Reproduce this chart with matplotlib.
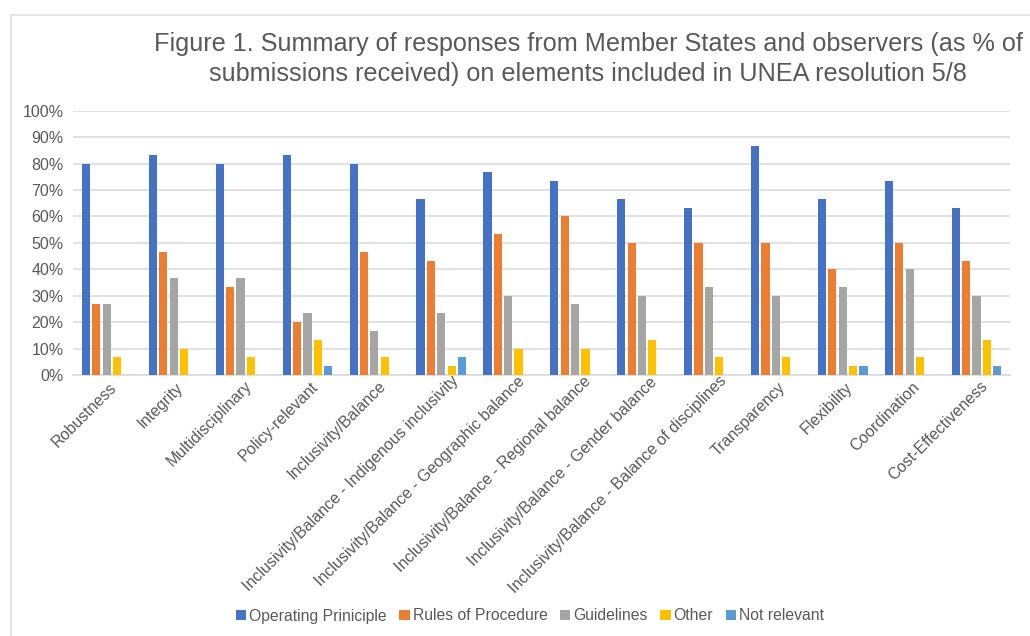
import numpy as np
import matplotlib
matplotlib.use('Agg')
import matplotlib.pyplot as plt
from matplotlib.patches import Rectangle
from matplotlib.ticker import PercentFormatter
from matplotlib.transforms import ScaledTranslation

plt.rcParams['font.family'] = ['Liberation Sans', 'DejaVu Sans']

categories = ['Robustness', 'Integrity', 'Multidisciplinary', 'Policy-relevant',
              'Inclusivity/Balance', 'Inclusivity/Balance - Indigenous inclusivity',
              'Inclusivity/Balance - Geographic balance',
              'Inclusivity/Balance - Regional balance',
              'Inclusivity/Balance - Gender balance',
              'Inclusivity/Balance - Balance of disciplines',
              'Transparency', 'Flexibility', 'Coordination', 'Cost-Effectiveness']

# % of submissions received
operating = [80.0, 83.3, 80.0, 83.3, 80.0, 66.7, 76.7, 73.3, 66.7, 63.3, 86.7, 66.7, 73.3, 63.3]
rules = [26.7, 46.7, 33.3, 20.0, 46.7, 43.3, 53.3, 60.0, 50.0, 50.0, 50.0, 40.0, 50.0, 43.3]
guidelines = [26.7, 36.7, 36.7, 23.3, 16.7, 23.3, 30.0, 26.7, 30.0, 33.3, 30.0, 33.3, 40.0, 30.0]
other = [6.7, 10.0, 6.7, 13.3, 6.7, 3.3, 10.0, 10.0, 13.3, 6.7, 6.7, 3.3, 6.7, 13.3]
not_relevant = [0, 0, 0, 3.3, 0, 6.7, 0, 0, 0, 0, 0, 3.3, 0, 3.3]

series = [('Operating Priniciple', operating, '#4472C4'),
          ('Rules of Procedure', rules, '#ED7D31'),
          ('Guidelines', guidelines, '#A5A5A5'),
          ('Other', other, '#FFC000'),
          ('Not relevant', not_relevant, '#5B9BD5')]

txt = '#595959'
grid = '#D9D9D9'

fig = plt.figure(figsize=(10.3, 6.36), dpi=100)
# chart area frame
fig.patches.append(Rectangle((11 / 1030, -0.05), 1.1, 1 - 15 / 636 + 0.05,
                             transform=fig.transFigure, fill=False,
                             edgecolor='#E0E0E0', linewidth=1.2))

ax = fig.add_axes([73.3 / 1030, 1 - 375 / 636, 936.7 / 1030, 264.3 / 636])

x = np.arange(len(categories))
slot = 0.155
for i, (name, vals, col) in enumerate(series):
    ax.bar(x + (i - 2) * slot, vals, width=0.122, color=col, label=name, zorder=3)

ax.set_xlim(-0.5, len(categories) - 0.5)
ax.set_ylim(0, 100)
ax.set_yticks(np.arange(0, 101, 10))
ax.yaxis.set_major_formatter(PercentFormatter(decimals=0))
ax.grid(axis='y', color=grid, linewidth=1.1, zorder=0)
for s in ['top', 'right', 'left']:
    ax.spines[s].set_visible(False)
ax.spines['bottom'].set_color(grid)
ax.spines['bottom'].set_linewidth(1.1)
ax.tick_params(axis='both', length=0, colors=txt, labelsize=11.5)
ax.tick_params(axis='y', pad=7)
ax.tick_params(axis='x', pad=9)

ax.set_xticks(x)
ax.set_xticklabels(categories, rotation=45, ha='right', va='center',
                   rotation_mode='anchor', color=txt, fontsize=11.5)
# excel pushes the longer rotated labels up along their slope
for lab in ax.get_xticklabels():
    t = 0.22 * len(lab.get_text())
    lab.set_transform(lab.get_transform() +
                      ScaledTranslation((5 + t) / 100, t / 100, fig.dpi_scale_trans))

fig.text(588 / 1030, 1 - 32 / 636,
         'Figure 1. Summary of responses from Member States and observers (as % of\n'
         'submissions received) on elements included in UNEA resolution 5/8',
         ha='center', va='top', fontsize=18.2, color=txt, linespacing=1.32)

leg = fig.legend(loc='center', bbox_to_anchor=(530 / 1030, 1 - 616 / 636), ncol=5,
                 frameon=False, fontsize=11.3, handlelength=0.65, handleheight=0.65,
                 handletextpad=0.2, columnspacing=0.8)
for t in leg.get_texts():
    t.set_color(txt)

fig.savefig('out.png', dpi=100)
